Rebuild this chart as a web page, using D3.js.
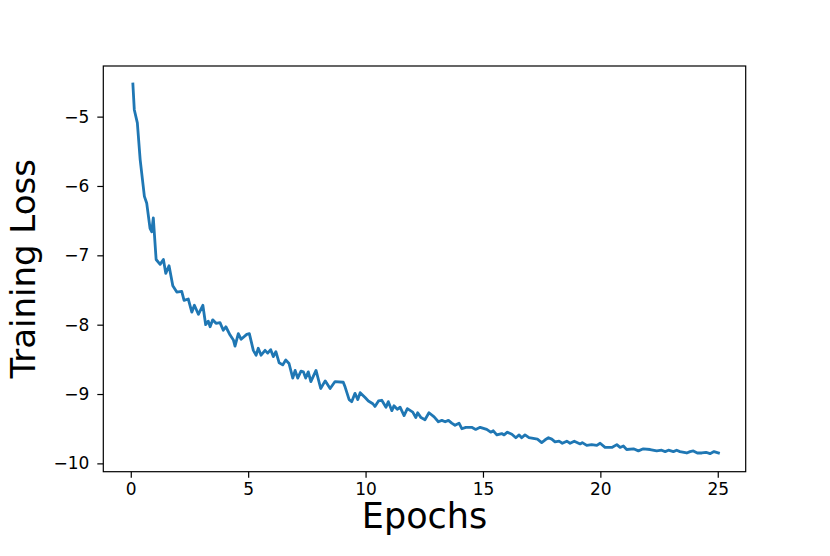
<!DOCTYPE html>
<html>
<head>
<meta charset="utf-8">
<script src="https://cdn.jsdelivr.net/npm/d3@7.9.0/dist/d3.min.js"></script>
<style>
  body { margin: 0; background: #fff; }
  svg { display: block; font-family: "DejaVu Sans", sans-serif; }
</style>
</head>
<body>
<svg id="chart" width="830" height="556"></svg>
<script>
// epochs
const epochs = [0.09, 0.15, 0.28, 0.40, 0.58, 0.68, 0.82, 0.89, 0.96, 1.08,
  1.25, 1.39, 1.49, 1.63, 1.79, 1.96, 2.17, 2.27, 2.45, 2.60,
  2.71, 2.88, 3.07, 3.19, 3.30, 3.38, 3.49, 3.63, 3.80, 3.94,
  4.05, 4.23, 4.37, 4.44, 4.58, 4.70, 4.94, 5.05, 5.22, 5.34,
  5.43, 5.55, 5.72, 5.83, 5.96, 6.07, 6.18, 6.32, 6.47, 6.60,
  6.74, 6.90, 7.00, 7.11, 7.25, 7.35, 7.45, 7.56, 7.67, 7.89,
  8.09, 8.28, 8.49, 8.70, 9.05, 9.13, 9.30, 9.41, 9.55, 9.67,
  9.77, 9.98, 10.12, 10.31, 10.40, 10.55, 10.69, 10.87, 10.97, 11.12,
  11.21, 11.35, 11.47, 11.64, 11.78, 12.01, 12.14, 12.22, 12.36, 12.53,
  12.70, 12.92, 13.10, 13.25, 13.39, 13.53, 13.67, 13.81, 13.98, 14.10,
  14.27, 14.52, 14.69, 14.88, 15.16, 15.33, 15.44, 15.59, 15.80, 15.90,
  16.04, 16.23, 16.40, 16.54, 16.65, 16.79, 16.96, 17.32, 17.50, 17.65,
  17.79, 17.93, 18.07, 18.24, 18.38, 18.57, 18.71, 18.89, 19.14, 19.23,
  19.42, 19.63, 19.85, 19.99, 20.20, 20.49, 20.70, 20.84, 20.98, 21.12,
  21.41, 21.62, 21.83, 22.12, 22.40, 22.61, 22.76, 22.90, 23.11, 23.25,
  23.39, 23.68, 23.82, 23.96, 24.13, 24.32, 24.50, 24.67, 24.84, 25.03];

const loss = [-4.53, -4.90, -5.09, -5.62, -6.15, -6.25, -6.61, -6.66, -6.46, -7.06,
  -7.13, -7.06, -7.26, -7.15, -7.44, -7.53, -7.52, -7.65, -7.63, -7.82,
  -7.72, -7.85, -7.72, -8.00, -7.95, -8.03, -7.93, -7.98, -7.97, -8.08,
  -8.03, -8.15, -8.22, -8.31, -8.13, -8.21, -8.14, -8.13, -8.37, -8.44,
  -8.34, -8.44, -8.37, -8.41, -8.36, -8.46, -8.39, -8.55, -8.58, -8.51,
  -8.56, -8.77, -8.66, -8.77, -8.67, -8.68, -8.77, -8.68, -8.82, -8.66,
  -8.92, -8.81, -8.92, -8.82, -8.83, -8.90, -9.08, -9.11, -8.99, -9.08,
  -8.98, -9.05, -9.10, -9.14, -9.18, -9.10, -9.09, -9.19, -9.11, -9.24,
  -9.17, -9.22, -9.19, -9.31, -9.21, -9.26, -9.34, -9.27, -9.34, -9.37,
  -9.27, -9.33, -9.40, -9.38, -9.40, -9.38, -9.42, -9.45, -9.42, -9.50,
  -9.48, -9.48, -9.51, -9.48, -9.51, -9.55, -9.53, -9.59, -9.57, -9.59,
  -9.55, -9.58, -9.63, -9.59, -9.63, -9.59, -9.63, -9.65, -9.70, -9.66,
  -9.63, -9.65, -9.69, -9.68, -9.71, -9.68, -9.71, -9.68, -9.72, -9.70,
  -9.74, -9.73, -9.74, -9.71, -9.77, -9.77, -9.73, -9.77, -9.75, -9.80,
  -9.79, -9.82, -9.79, -9.80, -9.82, -9.81, -9.83, -9.81, -9.83, -9.81,
  -9.83, -9.85, -9.83, -9.82, -9.85, -9.85, -9.84, -9.86, -9.83, -9.85];

const xTicks = [0, 5, 10, 15, 20, 25];
const yTicks = [-10, -9, -8, -7, -6, -5];

const svg = d3.select('#chart');
const margin = { top: 66, right: 84.3, bottom: 84.3, left: 103.3 };
const width = 830 - margin.left - margin.right;
const height = 556 - margin.top - margin.bottom;

const g = svg.append('g')
  .attr('transform', `translate(${margin.left},${margin.top})`);

let x = d3.scaleLinear().domain([-1.17, 26.19]).range([0, width]);
let y = d3.scaleLinear().domain([-10.12, -4.27]).range([height, 0]);

let line = d3.line()
  .x((d, i) => x(epochs[i]))
  .y((d) => y(d));

g.append('path')
  .datum(loss)
  .attr('fill', 'none')
  .attr('stroke', '#1f77b4')
  .attr('stroke-width', 2.8)
  .attr('stroke-linejoin', 'round')
  .attr('stroke-linecap', 'square')
  .attr('d', line);

// axes
let xAxis = g.append('g')
  .attr('transform', `translate(0,${height})`)
  .call(d3.axisBottom(x).tickValues(xTicks).tickFormat(d3.format('d'))
    .tickSize(6).tickPadding(5).tickSizeOuter(0));

let yAxis = g.append('g')
  .call(d3.axisLeft(y).tickValues(yTicks).tickFormat(d3.format('d'))
    .tickSize(6).tickPadding(8).tickSizeOuter(0));

[xAxis, yAxis].forEach((a) => {
  a.select('.domain').remove();
  a.selectAll('line').attr('stroke', '#000').attr('stroke-width', 1.2);
  a.selectAll('text')
    .attr('fill', '#000')
    .style('font-size', '17px')
    .style('font-family', '"DejaVu Sans", sans-serif');
});

// frame
g.append('rect')
  .attr('width', width)
  .attr('height', height)
  .attr('fill', 'none')
  .attr('stroke', '#000')
  .attr('stroke-width', 1.2);

svg.append('text')
  .attr('x', margin.left + width / 2)
  .attr('y', 528)
  .attr('text-anchor', 'middle')
  .style('font-size', '35px')
  .text('Epochs');

svg.append('text')
  .attr('transform', `translate(35,${margin.top + height / 2}) rotate(-90)`)
  .attr('text-anchor', 'middle')
  .style('font-size', '34px')
  .text('Training Loss');
</script>
</body>
</html>
